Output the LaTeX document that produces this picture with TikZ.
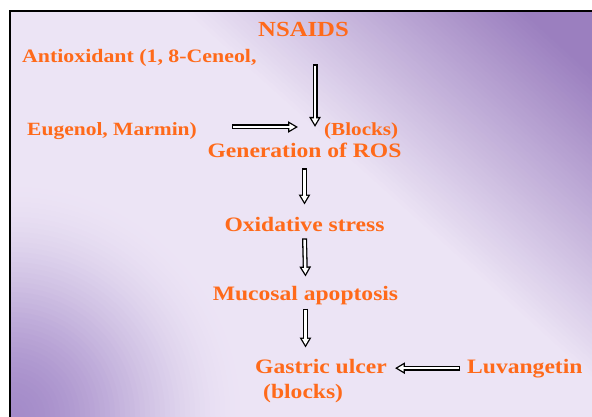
\documentclass[tikz,border=0pt]{standalone}
\usepackage{fontspec}
\setmainfont{Liberation Serif}[FakeStretch=1.15]
\usepackage{xcolor}
\usepackage{tikz}
\usetikzlibrary{positioning,arrows.meta}

\definecolor{lav}{HTML}{ECE4F5}
\definecolor{purp}{HTML}{9B7FBF}
\definecolor{purpc}{HTML}{A48BC9}
\definecolor{orng}{HTML}{FF6A1A}

\tikzset{
  lbl/.style={text=orng, inner sep=0pt, font=\bfseries\fontsize{20.5}{22}\selectfont},
  hollow/.style={line width=5pt, -{Triangle[length=10pt,width=11pt]},
    postaction={draw, white, line width=2.4pt, shorten <=1.3pt, shorten >=2.6pt,
      -{Triangle[length=6pt,width=6.5pt]}}}
}

\begin{document}
\begin{tikzpicture}[x=1pt,y=-1pt]
\useasboundingbox (0,0) rectangle (592,417);

% background %
\begin{scope}
\clip (10,11) rectangle (592,417);
\begin{scope}[rotate around={-42:(301,214)}]
\fill[lav] (-100,-150) rectangle (700,580);
\foreach \k in {0,...,57}{
  \pgfmathsetmacro\pc{100*\k/57}
  \fill[purp!\pc!lav] (-100,{144-4*\k}) rectangle (700,{144-4*\k-4.6});
}
\fill[purp] (-100,{144-4*58+0.5}) rectangle (700,-300);
\end{scope}
\foreach \k in {0,...,47}{
  \pgfmathsetmacro\pc{100*(3*(\k/48)^2-2*(\k/48)^3)}
  \fill[purpc!\pc!lav] (10,417) circle[radius={240-5*\k}];
}
\end{scope}
\draw[line width=2pt] (10,417) -- (10,11) -- (592,11);

% nodes %
\node[lbl, anchor=base, font=\bfseries\fontsize{21.5}{23}\selectfont] (nsaids) at (303.5,37) {NSAIDS};
\node[lbl, anchor=base west, font=\bfseries\fontsize{19}{21}\selectfont] (antiox) at (22,63) {Antioxidant (1, 8-Ceneol,};
\node[lbl, anchor=base west, font=\bfseries\fontsize{18.7}{21}\selectfont] (eugenol) at (27,136) {Eugenol, Marmin)};
\node[lbl, anchor=base west, font=\bfseries\fontsize{18.4}{21}\selectfont] (blocks) at (324,136) {(Blocks)};
\node[lbl, anchor=base] (ros) at (304.5,158) {Generation of ROS};
\node[lbl, anchor=base] (oxs) at (304.5,231) {Oxidative stress};
\node[lbl, anchor=base] (muc) at (305.5,300) {Mucosal apoptosis};
\node[lbl, anchor=base west] (ulcer) at (255,373) {Gastric ulcer};
\node[lbl, anchor=base west] (ublocks) at (263,398) {(blocks)};
\node[lbl, anchor=base west] (luv) at (467,373) {Luvangetin};
\coordinate (meet) at (315,127);

% edges %

%NSAIDS%
\draw[hollow] ([yshift=-27pt]nsaids.south -| meet) -- (meet);

%antioxidant%
\draw[hollow] ([xshift=35pt]eugenol.east |- meet) -- ([xshift=-17pt]meet);

%ROS chain%
\draw[hollow] ([yshift=-10pt]ros.south) -- ([yshift=12pt]oxs.north);
\draw[hollow] ([yshift=-7pt]oxs.south) -- ([yshift=9pt]muc.north);
\draw[hollow] ([yshift=-4pt]muc.south) -- ([yshift=11pt]muc.south |- ulcer.north);

%Luvangetin%
\draw[hollow] ([xshift=-7pt]luv.west) -- ([xshift=8pt]ulcer.east |- luv.west);

\end{tikzpicture}
\end{document}
